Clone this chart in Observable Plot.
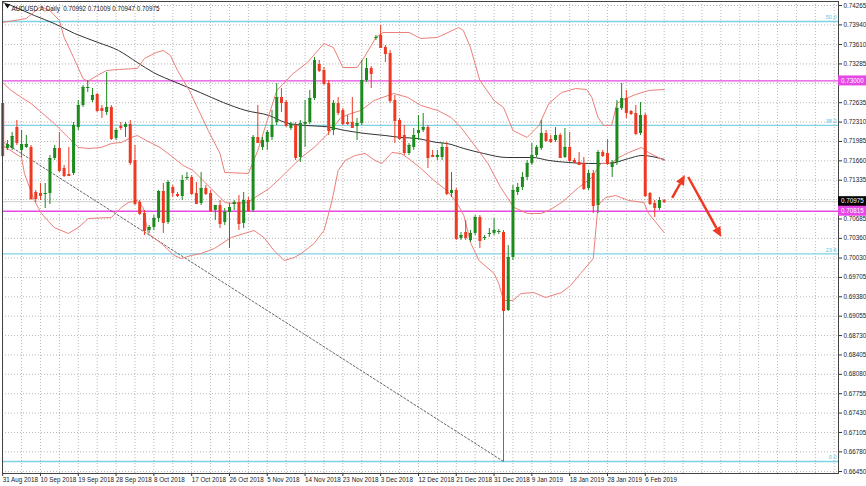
<!DOCTYPE html>
<html><head><meta charset="utf-8">
<script src="https://cdn.jsdelivr.net/npm/d3@7"></script>
<script src="https://cdn.jsdelivr.net/npm/@observablehq/plot@0.6"></script>
<style>body{margin:0;background:#fff;} svg{display:block;}</style>
</head><body><div id="chart"></div>
<script>
// ---------- DATA ----------
const symbolTitle = "AUDUSD.A,Daily  0.70992 0.71009 0.70947 0.70975";
const opens = [0.72622,0.71867,0.71867,0.72219,0.71834,0.71884,0.71884,0.71129,0.71112,0.71096,
0.71112,0.71699,0.71867,0.71532,0.71431,0.71448,0.72219,0.72588,0.72873,0.72672,
0.72773,0.72538,0.72471,0.72555,0.72035,0.72236,0.72219,0.72270,0.71666,0.70961,
0.70777,0.70492,0.70542,0.70693,0.71146,0.70626,0.71213,0.71096,0.71062,0.71364,
0.71381,0.71112,0.70945,0.71196,0.71112,0.70827,0.70911,0.70626,0.70794,0.70928,
0.70961,0.70609,0.70995,0.70827,0.72052,0.71884,0.71968,0.72052,0.72303,0.72722,
0.72638,0.72202,0.72253,0.71716,0.72270,0.72303,0.72706,0.73276,0.73175,0.72957,
0.72169,0.72622,0.72504,0.72303,0.72303,0.72236,0.72286,0.73007,0.73209,0.73712,
0.73762,0.73561,0.73460,0.72672,0.72337,0.72085,0.71783,0.71884,0.72119,0.72169,
0.72219,0.71750,0.71716,0.71716,0.71884,0.71112,0.71163,0.70358,0.70458,0.70324,
0.70442,0.70710,0.70358,0.70425,0.70442,0.70458,0.70458,0.69150,0.70039,0.71129,
0.71213,0.71381,0.71616,0.71750,0.71867,0.72119,0.72018,0.72001,0.72085,0.71716,
0.71884,0.71666,0.71632,0.71616,0.71196,0.71448,0.70911,0.71800,0.71783,0.71548,
0.71632,0.72538,0.72706,0.72488,0.72454,0.72119,0.72420,0.71112,0.70945,0.70861,
0.70992];
const highs = [0.72672,0.72001,0.72135,0.72337,0.72169,0.72085,0.71917,0.71163,0.71280,0.71280,
0.71750,0.71917,0.72135,0.71582,0.71884,0.72303,0.72672,0.72924,0.73007,0.72873,
0.72789,0.72588,0.73142,0.72588,0.72202,0.72303,0.72303,0.72337,0.71917,0.70995,
0.70827,0.70576,0.70743,0.71163,0.71280,0.71330,0.71247,0.71129,0.71414,0.71465,
0.71414,0.71297,0.71465,0.71247,0.71163,0.70911,0.70995,0.70861,0.70945,0.70995,
0.71079,0.71129,0.71045,0.72085,0.72588,0.72052,0.72169,0.72504,0.72957,0.72873,
0.72672,0.72303,0.72303,0.72337,0.72672,0.72840,0.73393,0.73343,0.73225,0.73007,
0.72672,0.72722,0.72538,0.72420,0.72722,0.72370,0.73343,0.73376,0.73242,0.73762,
0.73930,0.73594,0.73511,0.72756,0.72370,0.72253,0.71951,0.72202,0.72420,0.72454,
0.72253,0.71834,0.71834,0.71968,0.71968,0.71465,0.71196,0.70458,0.70660,0.70492,
0.70743,0.70743,0.70408,0.70525,0.70693,0.70509,0.70492,0.70240,0.71247,0.71280,
0.71465,0.71666,0.71951,0.71917,0.72337,0.72169,0.72085,0.72219,0.72119,0.72202,
0.72135,0.71699,0.71800,0.71716,0.71498,0.71498,0.71834,0.71834,0.72018,0.71666,
0.72672,0.72957,0.72840,0.72504,0.72588,0.72638,0.72454,0.71129,0.70995,0.71045,
0.71009];
const lows = [0.71716,0.71834,0.71834,0.71917,0.71716,0.71867,0.70995,0.70961,0.70995,0.70861,
0.70928,0.71666,0.71465,0.71381,0.71398,0.71414,0.72169,0.72555,0.72806,0.72638,
0.72471,0.72370,0.72420,0.72001,0.72001,0.72169,0.72052,0.71582,0.70911,0.70743,
0.70408,0.70442,0.70492,0.70626,0.70442,0.70593,0.71045,0.71045,0.70995,0.71330,
0.71079,0.70928,0.70911,0.71079,0.70794,0.70660,0.70525,0.70576,0.70190,0.70827,
0.70492,0.70525,0.70794,0.70794,0.71951,0.71834,0.71834,0.72001,0.72253,0.72471,
0.72219,0.72169,0.71666,0.71632,0.71884,0.72270,0.72672,0.73142,0.72924,0.72085,
0.72085,0.72420,0.72253,0.72253,0.72202,0.72001,0.72253,0.72974,0.72873,0.73678,
0.73544,0.73309,0.72622,0.71951,0.72001,0.71750,0.71750,0.71834,0.72001,0.72135,
0.71532,0.71716,0.71666,0.71666,0.71079,0.71045,0.70324,0.70324,0.70324,0.70291,
0.70408,0.70190,0.70324,0.70375,0.70408,0.70425,0.66618,0.69134,0.69989,0.71079,
0.71163,0.71330,0.71582,0.71716,0.71834,0.71968,0.71951,0.71968,0.71699,0.71699,
0.71632,0.71616,0.71582,0.71163,0.71163,0.70777,0.70777,0.71716,0.71582,0.71381,
0.71582,0.72504,0.72370,0.72420,0.72085,0.72085,0.71045,0.70911,0.70710,0.70827,
0.70947];
const closes = [0.71750,0.71934,0.72068,0.71968,0.71934,0.71934,0.71029,0.71029,0.71079,0.71112,
0.71699,0.71867,0.71498,0.71414,0.71414,0.72253,0.72588,0.72890,0.72890,0.72756,
0.72504,0.72504,0.72555,0.72035,0.72169,0.72219,0.72270,0.71632,0.70945,0.70777,
0.70492,0.70542,0.70693,0.71146,0.70626,0.71297,0.71129,0.71079,0.71330,0.71381,
0.71112,0.70945,0.71196,0.71112,0.70827,0.70911,0.70609,0.70794,0.70878,0.70961,
0.70609,0.70995,0.70827,0.72052,0.71968,0.72001,0.72135,0.72253,0.72722,0.72638,
0.72253,0.72270,0.71716,0.72286,0.72303,0.72706,0.73343,0.73175,0.72957,0.72169,
0.72622,0.72471,0.72286,0.72286,0.72219,0.72286,0.73007,0.73209,0.73125,0.73729,
0.73561,0.73460,0.72672,0.72337,0.72035,0.71800,0.71917,0.72085,0.72169,0.72219,
0.71716,0.71733,0.71750,0.71884,0.71112,0.71163,0.70358,0.70408,0.70375,0.70442,
0.70710,0.70324,0.70375,0.70442,0.70492,0.70475,0.69150,0.70039,0.71163,0.71213,
0.71381,0.71616,0.71750,0.71884,0.72119,0.72001,0.71984,0.72085,0.71716,0.71884,
0.71666,0.71632,0.71599,0.71196,0.71448,0.70911,0.71800,0.71750,0.71616,0.71632,
0.72538,0.72706,0.72471,0.72454,0.72119,0.72420,0.71079,0.70945,0.70878,0.70995,
0.70975];

// Bollinger bands and moving average: [bar, price] points
const bbUpper = [[0,0.73980],[5,0.74047],[6.5,0.74148],[8,0.74248],[10,0.74181],[12,0.74014],[13,0.73729],
[15,0.73393],[17,0.73041],[18,0.72991],[20,0.73091],[22,0.73175],[24.5,0.73192],[28.5,0.73209],[30,0.73376],
[32.5,0.73477],[34,0.73511],[35.5,0.73427],[37,0.73175],[39.5,0.72840],[41.5,0.72504],[43.5,0.72169],
[46,0.71783],[47,0.71465],[52,0.71448],[54,0.71834],[56,0.72337],[58,0.72840],[61.5,0.73125],[64.5,0.73309],
[68,0.73628],[70,0.73561],[72,0.73225],[75,0.73225],[76.5,0.73393],[79,0.73729],[80.5,0.73812],[86,0.73812],
[88.5,0.73712],[92,0.73729],[96.5,0.73896],[97.5,0.73846],[99,0.73561],[101,0.73007],[104,0.72672],
[106,0.72555],[108,0.72169],[111,0.72052],[113.5,0.72253],[115.6,0.72622],[118.3,0.72806],[121.3,0.72873],
[123.6,0.72856],[124.7,0.72722],[126,0.72387],[127.2,0.72253],[128.9,0.72253],[130,0.72622],[131.9,0.72706],
[134,0.72773],[136.7,0.72840],[140,0.72856]];
const bbMiddle = [[0,0.72974],[1.8,0.72840],[4,0.72722],[6,0.72622],[8.2,0.72471],[10.9,0.72286],[13.9,0.72052],
[16,0.71884],[18.3,0.71867],[20.9,0.71884],[23,0.71951],[25.1,0.71968],[27.2,0.72052],[28.5,0.72085],
[30.4,0.72001],[33.3,0.71884],[36.1,0.71716],[38.2,0.71582],[40.3,0.71498],[42.4,0.71330],[44.1,0.71196],
[46,0.71045],[47.1,0.70961],[48.8,0.70945],[51.9,0.70961],[53.4,0.71045],[56.4,0.71196],[58.9,0.71381],
[63.2,0.71716],[65.9,0.71884],[68.9,0.72119],[71.6,0.72387],[73.7,0.72454],[75.8,0.72504],[78.6,0.72672],
[82.8,0.72789],[85.8,0.72722],[88.5,0.72588],[92.1,0.72504],[94.9,0.72387],[97,0.72219],[99.1,0.72001],
[102.7,0.71616],[105.4,0.71213],[108.2,0.70878],[111.1,0.70777],[113.9,0.70777],[115.6,0.70827],
[118.3,0.70961],[121.9,0.71213],[124.7,0.71381],[126.6,0.71616],[128.7,0.71616],[130.4,0.71716],
[132.5,0.71800],[135.2,0.71884],[136.7,0.71800],[140,0.71666]];
const bbLower = [[0,0.71917],[4,0.71716],[4.6,0.71448],[6.7,0.70995],[8.2,0.70777],[10.9,0.70542],[13.9,0.70442],
[16,0.70542],[18.1,0.70693],[23,0.70710],[25.1,0.70878],[26.6,0.70961],[28.5,0.70995],[29.7,0.70878],
[30.8,0.70442],[33.6,0.70274],[36.3,0.70073],[37.8,0.70022],[39.9,0.70073],[42,0.70106],[44.8,0.70190],
[48.4,0.70375],[51.1,0.70442],[53.2,0.70492],[55.3,0.70375],[57.4,0.70157],[59.6,0.69989],[61.7,0.70039],
[63.2,0.70106],[65.9,0.70274],[68,0.70492],[68.6,0.70660],[69.7,0.70995],[71,0.71498],[72.5,0.71666],
[74.6,0.71750],[76.7,0.71783],[78.8,0.71666],[80.3,0.71616],[82.4,0.71800],[84.3,0.71783],[85.6,0.71716],
[88.3,0.71548],[91.3,0.71330],[94,0.71163],[96.1,0.70961],[97.6,0.70743],[99.1,0.70274],[100.8,0.69989],
[104,0.69771],[105,0.69600],[106,0.69318],[108,0.69318],[109.7,0.69435],[112.4,0.69452],[114.9,0.69368],
[118.3,0.69452],[120.2,0.69570],[122.3,0.69771],[125,0.70022],[126,0.70911],[127.6,0.71045],[129.7,0.71079],
[132.5,0.70995],[135.7,0.70961],[136.7,0.70777],[140,0.70458]];
const movingAvg = [[0,0.74315],[1.8,0.74265],[6.7,0.74097],[10.9,0.73963],[15.2,0.73796],[20.2,0.73645],
[24.5,0.73511],[28.5,0.73309],[31.9,0.73142],[36.7,0.72974],[41.8,0.72806],[46.7,0.72638],[51.5,0.72504],
[56.4,0.72420],[59.8,0.72303],[64,0.72253],[68.2,0.72236],[72.5,0.72169],[76.7,0.72119],[80.9,0.72085],
[84.3,0.72052],[87.7,0.72035],[91.9,0.71968],[94,0.71951],[97.6,0.71867],[101.8,0.71783],[106.7,0.71716],
[112.2,0.71716],[115.6,0.71666],[119.8,0.71632],[124,0.71616],[128.3,0.71616],[132.5,0.71699],
[135.3,0.71750],[140,0.71683]];

// drawn objects
const trendLine = [[0,0.71984],[106,0.66618]];
const fibLevels = ["0.0","23.6","38.2","50.0"];
const fibPrices = [0.66618,0.70101,0.72256,0.73997];
const levelPrices = [0.73000,0.70815];
const levelLabels = ["0.73000","0.70815"];
const lastPrice = 0.70975;
const arrowFromBar = [141.8,145.2], arrowFromPrice = [0.71029,0.71381];
const arrowToBar = [144.5,152.2], arrowToPrice = [0.71414,0.70375];

// axis ticks
const dateBars = [0,8,16,24,32,40,48,56,64,72,80,88,96,104,112,120,128,136];
const dateLabels = ["31 Aug 2018","10 Sep 2018","19 Sep 2018","28 Sep 2018","8 Oct 2018","17 Oct 2018",
"26 Oct 2018","5 Nov 2018","14 Nov 2018","23 Nov 2018","3 Dec 2018","12 Dec 2018","21 Dec 2018",
"31 Dec 2018","9 Jan 2019","18 Jan 2019","28 Jan 2019","6 Feb 2019"];
const priceTicks = ["0.74265","0.73940","0.73610","0.73285","0.72960","0.72635","0.72310","0.71985","0.71660",
"0.71335","0.71010","0.70685","0.70360","0.70030","0.69705","0.69380","0.69055","0.68730","0.68405",
"0.68080","0.67755","0.67430","0.67105","0.66780","0.66450"];

// ---------- CHART ----------
const GREEN = "#1d8a1d", RED = "#ee3a22", BAND = "#eb7f78", CYAN = "#7fd2e6", MAG = "#e548e5";
const FONT = "'Liberation Sans', Arial, sans-serif";
const candles = opens.map((o, i) => ({i, open: o, high: highs[i], low: lows[i], close: closes[i], up: closes[i] >= o}));
const ups = candles.filter(d => d.up), downs = candles.filter(d => !d.up);
const pts = a => a.map(([b, v]) => ({b, v}));
const tickVals = priceTicks.map(Number);
const boxValues = [levelPrices[0], lastPrice, levelPrices[1]];
// tick labels that sit under a value box on the price axis are hidden, as in the reference
const hidden = v => boxValues.some(b => Math.abs(b - v) < 0.0006);
const gridBars = d3.range(0, 177, 4);
const arrows = arrowFromBar.map((b, k) => ({x1: b, y1: arrowFromPrice[k], x2: arrowToBar[k], y2: arrowToPrice[k]}));
const fibs = fibLevels.map((l, k) => ({l, p: fibPrices[k]}));

const candleMarks = (data, color) => [
  Plot.ruleX(data, {x: "i", y1: "low", y2: "high", stroke: color, strokeWidth: 1}),
  Plot.ruleX(data, {x: "i", y1: "open", y2: "close", stroke: color, strokeWidth: 3}),
  Plot.link(data, {x1: d => d.i - 0.32, x2: d => d.i + 0.32, y1: "close", y2: "close", stroke: color, strokeWidth: 1})
];

const chart = Plot.plot({
  width: 866, height: 486,
  marginLeft: 2, marginRight: 28, marginTop: 1, marginBottom: 13,
  style: {fontFamily: FONT, fontSize: "6.3px", background: "#fff", color: "#222", overflow: "visible"},
  x: {type: "linear", domain: [-0.04, 176.9], axis: null},
  y: {type: "linear", domain: [0.66417, 0.74332], axis: null},
  marks: [
    Plot.gridX(gridBars, {stroke: "#b8b8b8", strokeOpacity: 1, strokeDasharray: "1,2"}),
    Plot.gridY(tickVals, {stroke: "#b8b8b8", strokeOpacity: 1, strokeDasharray: "1,2"}),
    Plot.ruleY([lastPrice], {stroke: "#cfcfcf", strokeWidth: 1}),
    Plot.ruleY(fibPrices, {stroke: CYAN, strokeWidth: 1.3}),
    Plot.text(fibs, {y: "p", text: "l", frameAnchor: "right", textAnchor: "end", dx: -2, dy: -4, fill: "#5cc3dc", fontSize: 5.5}),
    Plot.ruleY(levelPrices, {stroke: MAG, strokeWidth: 1.3}),
    Plot.line(pts(trendLine), {x: "b", y: "v", stroke: "#666", strokeWidth: 1, strokeDasharray: "2,2"}),
    Plot.line(pts(movingAvg), {x: "b", y: "v", stroke: "#333", strokeWidth: 1, curve: "monotone-x"}),
    Plot.line(pts(bbUpper), {x: "b", y: "v", stroke: BAND, strokeWidth: 1}),
    Plot.line(pts(bbMiddle), {x: "b", y: "v", stroke: BAND, strokeWidth: 1}),
    Plot.line(pts(bbLower), {x: "b", y: "v", stroke: BAND, strokeWidth: 1}),
    ...candleMarks(ups, GREEN),
    ...candleMarks(downs, RED),
    Plot.axisX(dateBars, {anchor: "bottom", tickSize: 3, tickPadding: 1, textAnchor: "start", dx: 0,
      tickFormat: d => dateLabels[dateBars.indexOf(d)], fontSize: 6.3, stroke: "#333", fill: "#222"}),
    Plot.axisY(tickVals, {anchor: "right", tickSize: 3, tickPadding: 2, tickFormat: d => hidden(d) ? "" : d.toFixed(5),
      fontSize: 6.3, stroke: "#333", fill: "#222"}),
    Plot.dot([0], {frameAnchor: "top-left", dx: 5, dy: 4, symbol: "triangle", r: 2, rotate: 180, fill: "#111", stroke: "none"}),
    Plot.text([symbolTitle], {frameAnchor: "top-left", dx: 9, dy: 5, textAnchor: "start", fontSize: 6.3, fill: "#111"}),
    Plot.frame({stroke: "#444", strokeWidth: 1})
  ]
});

const xS = chart.scale("x"), yS = chart.scale("y");
const svg = d3.select(chart);

// hand-drawn red arrows: shaft + filled head, positioned through the chart's scales
const ga = svg.append("g");
for (const a of arrows) {
  const x1 = xS.apply(a.x1), y1 = yS.apply(a.y1), x2 = xS.apply(a.x2), y2 = yS.apply(a.y2);
  const ang = Math.atan2(y2 - y1, x2 - x1), L = 10, Wd = 4.5;
  const bx = x2 - L * Math.cos(ang), by = y2 - L * Math.sin(ang);
  ga.append("line").attr("x1", x1).attr("y1", y1).attr("x2", bx).attr("y2", by)
    .attr("stroke", RED).attr("stroke-width", 2.5);
  const px = -Math.sin(ang) * Wd, py = Math.cos(ang) * Wd;
  ga.append("polygon").attr("points", `${x2},${y2} ${bx + px},${by + py} ${bx - px},${by - py}`).attr("fill", RED);
}

// value boxes on the price axis
const boxes = [
  {v: levelPrices[0], t: levelLabels[0], bg: MAG},
  {v: lastPrice, t: lastPrice.toFixed(5), bg: "#000"},
  {v: levelPrices[1], t: levelLabels[1], bg: MAG}
];
const g = svg.append("g");
for (const b of boxes) {
  const y = yS.apply(b.v);
  g.append("rect").attr("x", 838).attr("y", y - 5).attr("width", 28).attr("height", 10).attr("fill", b.bg);
  g.append("text").attr("x", 841).attr("y", y).attr("dy", "0.35em").attr("fill", "#fff")
    .attr("text-anchor", "start").attr("font-family", FONT).attr("font-size", "6.3px").text(b.t);
}
document.getElementById("chart").appendChild(chart);
</script>
</body></html>
